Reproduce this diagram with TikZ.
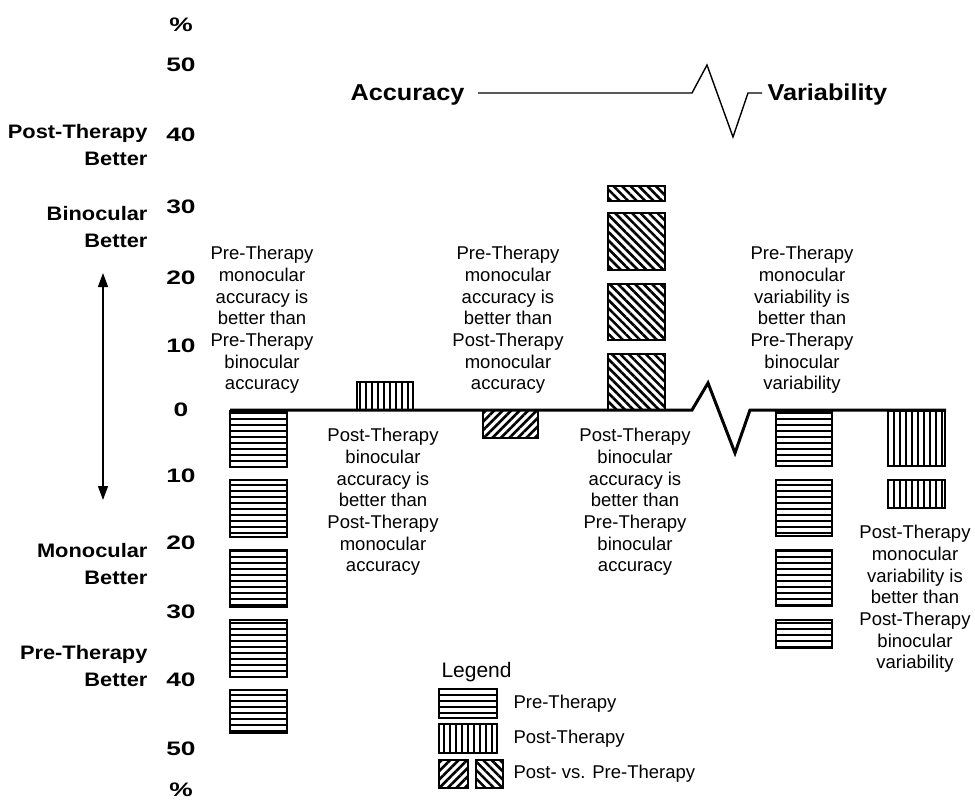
\documentclass[tikz,border=0pt]{standalone}
\usepackage{fontspec}
\setmainfont{Liberation Sans}
\newfontfamily\axisfont{Liberation Sans}[FakeStretch=1.12]
\newfontfamily\numfont{Liberation Sans}[FakeStretch=1.35]
\newfontfamily\titlefont{Liberation Sans}[FakeStretch=1.1]
\usetikzlibrary{arrows.meta, patterns.meta}

\begin{document}
\begin{tikzpicture}[x=1pt, y=-1pt,
    axisnum/.style={font=\numfont\bfseries\fontsize{19.5}{23}\selectfont},
    sidelabel/.style={font=\axisfont\bfseries\fontsize{19.5}{27}\selectfont, align=right, anchor=east},
    titletext/.style={font=\titlefont\bfseries\fontsize{23}{27}\selectfont},
    note/.style={font=\fontsize{18.5}{21.7}\selectfont, align=center},
    legtext/.style={font=\fontsize{18.5}{21.7}\selectfont, anchor=west},
    prebox/.style={draw, line width=1.8pt, pattern={Lines[angle=0, distance=6pt, line width=1.2pt]}},
    postbox/.style={draw, line width=1.8pt, pattern={Lines[angle=90, distance=6pt, line width=1.2pt]}},
    upbox/.style={draw, line width=1.8pt, pattern={Lines[angle=45, distance=6pt, line width=2.6pt]}},
    downbox/.style={draw, line width=1.8pt, pattern={Lines[angle=-45, distance=6pt, line width=2.6pt]}}]
    \useasboundingbox (0,0) rectangle (975,803);

    % Percent scale
    \foreach \v/\y [count=\i] in {\%/25, 50/65, 40/135, 30/207, 20/278, 10/346, 0/410,
        10/476, 20/543, 30/612, 40/680, 50/749, \%/790}
        \node[axisnum] (num\i) at (181,\y) {\v};

    % Side labels
    \node[sidelabel] (postbetter) at (151,145) {Post-Therapy\\Better};
    \node[sidelabel] (binbetter) at (151,227) {Binocular\\Better};
    \node[sidelabel] (monbetter) at (151,564) {Monocular\\Better};
    \node[sidelabel] (prebetter) at (151,666) {Pre-Therapy\\Better};
    \coordinate (arrtop) at (103,273);
    \coordinate (arrbot) at (103,500);
    \draw[line width=1.5pt, {Triangle[width=10pt, length=14pt]}-{Triangle[width=10pt, length=14pt]}] (arrtop) -- (arrbot);

    % Title with break
    \node[titletext, anchor=east] (acc) at (468,95) {Accuracy};
    \node[titletext, anchor=west] (var) at (764,95) {Variability};
    \coordinate (accend) at (478,93);
    \coordinate (varstart) at (762,93);
    \draw[line width=1.4pt] (accend) -- (692,93) -- (707,65) -- (733,137) -- (748,93) -- (varstart);

    % Bars, accuracy
    \foreach \t/\b in {411/467, 480/537, 550/607, 620/677, 690/733}
        \draw[prebox] (230,\t) rectangle (287,\b);
    \draw[postbox] (357,382) rectangle (413,410);
    \draw[upbox] (483,410) rectangle (538,438);
    \foreach \t/\b in {354/410, 284/340, 213/270, 186/201}
        \draw[downbox] (608,\t) rectangle (665,\b);

    % Bars, variability
    \foreach \t/\b in {411/466, 480/536, 550/606, 620/648}
        \draw[prebox] (776,\t) rectangle (832,\b);
    \foreach \t/\b in {411/466, 480/508}
        \draw[postbox] (888,\t) rectangle (945,\b);

    % Zero line with break
    \draw[line width=3pt] (230,410) -- (692,410) -- (708,383) -- (735,453) -- (750,410) -- (946,410);

    % Notes
    \node[note] (note1) at (262,320) {Pre-Therapy\\monocular\\accuracy is\\better than\\Pre-Therapy\\binocular\\accuracy};
    \node[note] (note2) at (383,502) {Post-Therapy\\binocular\\accuracy is\\better than\\Post-Therapy\\monocular\\accuracy};
    \node[note] (note3) at (508,320) {Pre-Therapy\\monocular\\accuracy is\\better than\\Post-Therapy\\monocular\\accuracy};
    \node[note] (note4) at (635,502) {Post-Therapy\\binocular\\accuracy is\\better than\\Pre-Therapy\\binocular\\accuracy};
    \node[note] (note5) at (802,320) {Pre-Therapy\\monocular\\variability is\\better than\\Pre-Therapy\\binocular\\variability};
    \node[note] (note6) at (915,599) {Post-Therapy\\monocular\\variability is\\better than\\Post-Therapy\\binocular\\variability};

    % Legend
    \node[font=\fontsize{21}{24}\selectfont, anchor=west] (legend) at (438,672) {Legend};
    \draw[prebox] (439,689) rectangle (497,718);
    \node[legtext] (legpre) at (510,704) {Pre-Therapy};
    \draw[postbox] (439,724) rectangle (497,753);
    \node[legtext] (legpost) at (510,739) {Post-Therapy};
    \draw[upbox] (439,760) rectangle (468,788);
    \draw[downbox] (476,760) rectangle (503,788);
    \node[legtext] (legdiff) at (510,774) {Post- vs. Pre-Therapy};
\end{tikzpicture}
\end{document}
